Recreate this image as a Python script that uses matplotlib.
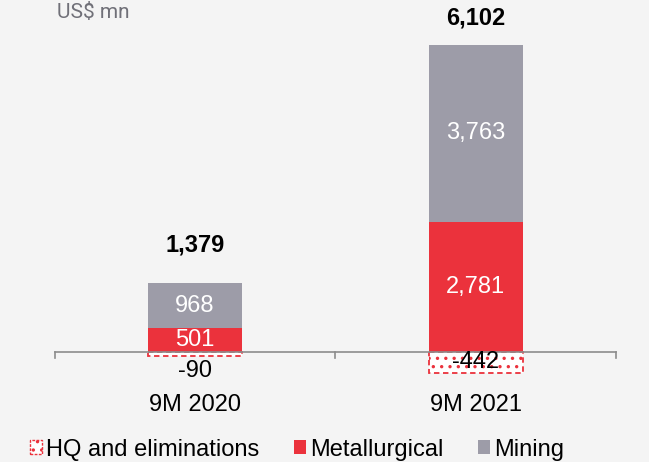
import matplotlib.pyplot as plt
import matplotlib.patches as mpatches

plt.rcParams['font.family'] = ['Liberation Sans', 'DejaVu Sans']
plt.rcParams['hatch.color'] = '#eb323c'
plt.rcParams['hatch.linewidth'] = 1.2

periods = ["9M 2020", "9M 2021"]
hq = [-90, -442]
metallurgical = [501, 2781]
mining = [968, 3763]
totals = ["1,379", "6,102"]

red = '#eb323c'
grey = '#9d9ca8'
bg = '#f4f4f4'
fs = 17

fig = plt.figure(figsize=(6.49, 4.62), dpi=100, facecolor=bg)
ax = fig.add_axes([0, 0, 1, 1])
ax.set_facecolor(bg)
ax.set_xlim(-0.694, 1.616)
ax.set_ylim(-2345, 7504)
ax.axis('off')

x = [0, 1]
w = 0.335
ax.bar(x, hq, w, color='white', edgecolor=red, hatch='..', linestyle=(0, (3, 2)), linewidth=1.3)
ax.bar(x, metallurgical, w, color=red)
ax.bar(x, mining, w, bottom=metallurgical, color=grey)

# baseline axis with ticks
ax.plot([-0.5, 1.5], [0, 0], color='#8c8c8c', lw=1.2, zorder=5)
for t in [-0.5, 0.5, 1.5]:
    ax.plot([t, t], [0, -130], color='#8c8c8c', lw=1.2)

total_pad = [810, 575]
for i in range(2):
    ax.text(x[i], metallurgical[i] / 2, f"{metallurgical[i]:,}", ha='center', va='center',
            color='white', fontsize=fs)
    ax.text(x[i], metallurgical[i] + mining[i] / 2, f"{mining[i]:,}", ha='center', va='center',
            color='white', fontsize=fs)
    ax.text(x[i], metallurgical[i] + mining[i] + total_pad[i], totals[i], ha='center', va='center',
            color='black', fontsize=fs, fontweight='bold')
    ax.text(x[i], -1120, periods[i], ha='center', va='center', color='black', fontsize=fs)

ax.text(x[0], -410, f"{hq[0]}", ha='center', va='center', color='black', fontsize=fs, zorder=6)
ax.text(x[1], hq[1] / 2, f"{hq[1]}", ha='center', va='center', color='black', fontsize=fs, zorder=6)

ax.text(-0.49, 7504 - 70, "US$ mn", ha='left', va='top', color='#707078', fontsize=15,
        family=['Roboto', 'DejaVu Sans'])

handles = [
    mpatches.Patch(facecolor='white', edgecolor=red, hatch='..', linestyle=(0, (2, 1)), label='HQ and eliminations'),
    mpatches.Patch(facecolor=red, label='Metallurgical'),
    mpatches.Patch(facecolor=grey, label='Mining'),
]
fig.legend(handles=handles, loc='center left', bbox_to_anchor=(0.046, 0.027), ncol=3, frameon=False,
           fontsize=fs, handlelength=0.5, handleheight=0.5, handletextpad=0.2, columnspacing=1.45,
           borderpad=0, borderaxespad=0)

fig.savefig('out.png', dpi=100, facecolor=bg)
